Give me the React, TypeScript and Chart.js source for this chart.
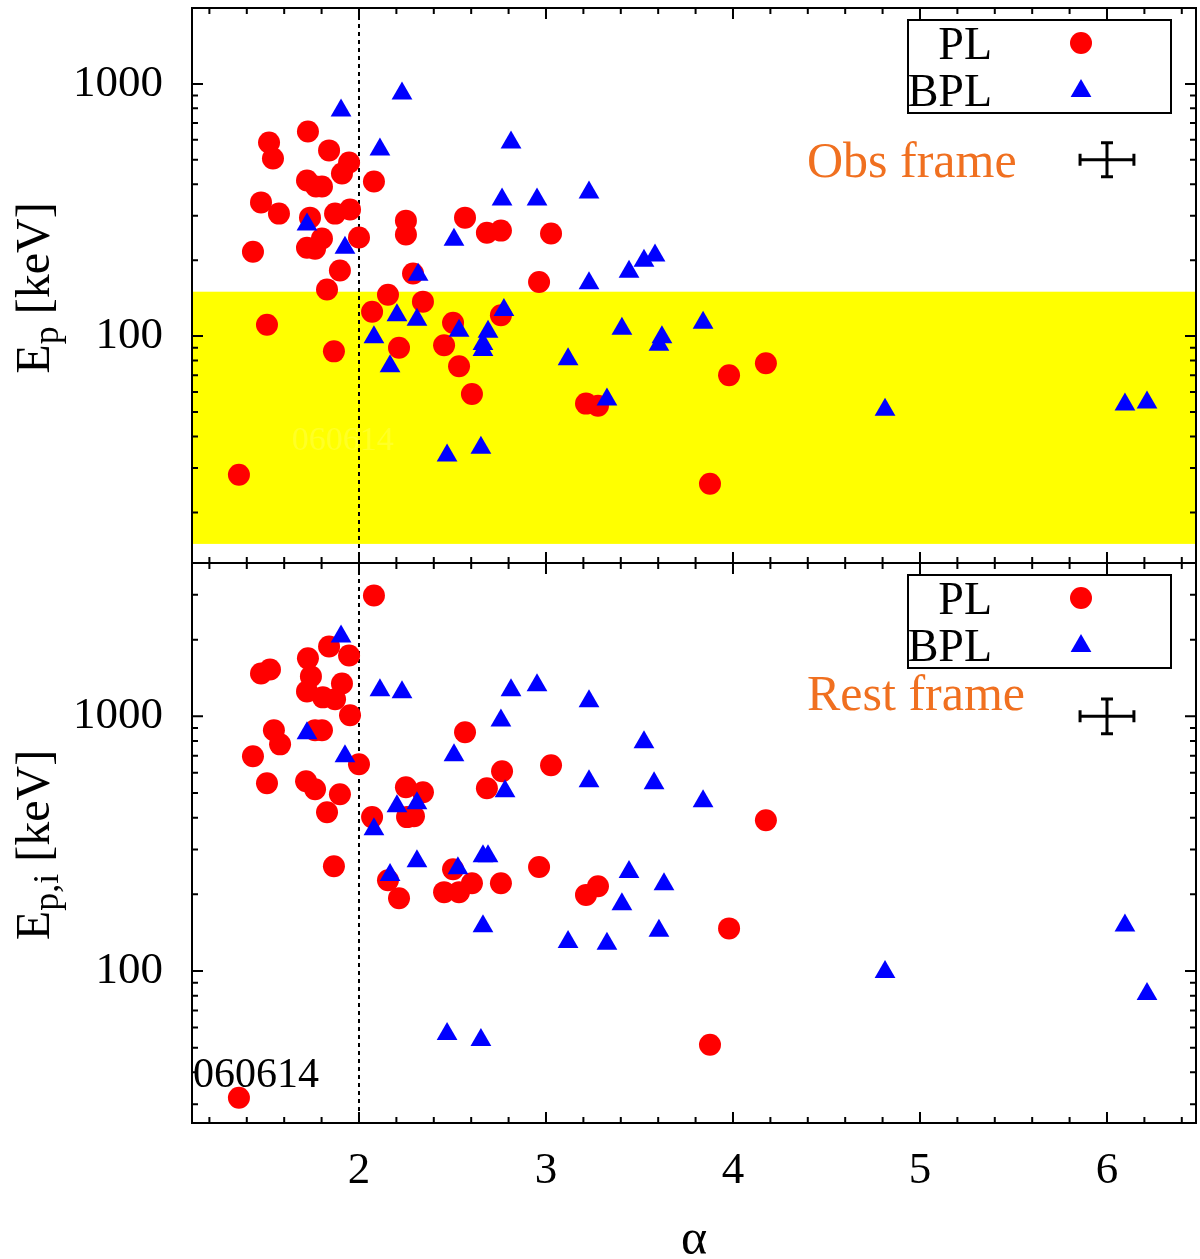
import { useEffect, useRef } from "react";
import { Chart, registerables } from "chart.js";

Chart.register(...registerables);

const SERIF = "'Liberation Serif', 'Times New Roman', Times, serif";
const RED = "#ff0000";
const BLUE = "#0000ff";
const ORANGE = "#f07020";

// upper panel: observer frame, PL fits
const plObsAlpha = [1.519, 1.54, 1.727, 1.84, 1.947, 1.909, 1.722, 1.77, 1.802, 2.08, 1.476, 1.572, 1.738, 1.872, 1.952, 2.251, 2.251, 2.567, 2.684, 2.759, 3.027, 1.433, 1.722, 1.765, 1.802, 2.0, 1.898, 2.289, 2.963, 1.829, 2.155, 2.342, 1.508, 2.07, 2.503, 2.759, 1.866, 2.214, 2.455, 2.535, 2.604, 1.358, 3.214, 3.278, 3.979, 4.176, 3.877];
const plObsEp = [586, 506, 648, 545, 488, 441, 414, 392, 392, 410, 339, 306, 295, 306, 318, 287, 253, 295, 257, 262, 255, 216, 224, 222, 244, 246, 182, 177, 164, 153, 146, 137, 111, 125, 113, 121, 87, 90, 92, 76, 59, 28.2, 54, 53, 70, 78, 26];

// upper panel: observer frame, BPL fits
const bplObsAlpha = [1.904, 2.23, 2.112, 2.813, 2.765, 2.952, 3.23, 1.722, 1.925, 2.508, 2.316, 3.23, 2.203, 2.31, 2.08, 2.166, 2.535, 2.69, 2.663, 2.663, 2.775, 3.118, 3.326, 2.471, 2.652, 3.444, 3.524, 3.583, 3.406, 3.62, 3.604, 3.84, 4.813, 6.096, 6.214];
const bplObsEp = [785, 917, 550, 586, 348, 348, 371, 277, 224, 241, 175, 162, 121, 116, 99, 76, 105, 104, 93, 88, 127, 81, 56, 33.6, 36.1, 180, 199, 209, 107, 99, 92.5, 113, 51, 53.5, 54.5];

// lower panel: rest frame, PL fits
const plRestAlpha = [2.08, 1.84, 1.947, 1.727, 1.476, 1.524, 1.743, 1.909, 1.722, 1.807, 1.872, 1.952, 1.545, 1.765, 1.802, 1.578, 2.567, 1.433, 2.0, 1.508, 1.717, 1.765, 1.898, 1.829, 2.251, 2.342, 2.257, 2.294, 2.07, 2.765, 2.684, 3.027, 1.866, 2.155, 2.214, 2.503, 2.455, 2.535, 2.604, 2.759, 2.963, 3.214, 3.278, 1.358, 4.176, 3.979, 3.877];
const plRestEpi = [2982, 1881, 1734, 1689, 1474, 1528, 1435, 1346, 1253, 1187, 1166, 1009, 881, 881, 881, 776, 866, 697, 648, 546, 556, 517, 494, 420, 527, 503, 402, 405, 402, 609, 522, 642, 258, 227, 193, 251, 204, 204, 221, 221, 256, 199, 215, 31.8, 391, 147, 51.3];

// lower panel: rest frame, BPL fits
const bplRestAlpha = [1.904, 2.112, 2.23, 2.813, 2.952, 3.23, 2.759, 1.722, 1.925, 2.508, 2.781, 3.23, 2.203, 2.31, 2.08, 2.166, 2.31, 2.529, 2.663, 2.69, 2.663, 3.118, 3.326, 2.471, 2.652, 3.524, 3.578, 3.84, 3.444, 3.631, 3.406, 3.604, 4.813, 6.096, 6.214];
const bplRestEpi = [2060, 1265, 1242, 1265, 1323, 1145, 964, 858, 697, 703, 508, 556, 444, 456, 360, 238, 270, 253, 282, 282, 150, 130, 128, 56.6, 53.6, 791, 546, 464, 245, 219, 183, 144, 99, 151, 81.3];

// axes
const alphaRange = [1.107, 6.476];
const obsRange = [12.6, 2000];
const restRange = [25.3, 4000];
const alphaTicks = [1.2, 1.4, 1.6, 1.8, 2, 2.2, 2.4, 2.6, 2.8, 3, 3.2, 3.4, 3.6, 3.8, 4, 4.2, 4.4, 4.6, 4.8, 5, 5.2, 5.4, 5.6, 5.8, 6, 6.2, 6.4];
const alphaLabels = [2, 3, 4, 5, 6];
const obsTicks = [20, 30, 40, 50, 60, 70, 80, 90, 100, 200, 300, 400, 500, 600, 700, 800, 900, 1000, 2000];
const restTicks = [30, 40, 50, 60, 70, 80, 90, 100, 200, 300, 400, 500, 600, 700, 800, 900, 1000, 2000, 3000, 4000];
const energyLabels = [100, 1000];

// extras
const batBand = [15, 150];
const alphaDivider = 2;
const errAlpha = [5.856, 6, 6.144];
const errObsEp = [428, 500, 585];
const errRestEp = [855, 1000, 1170];
const tagName = "060614";
const tagObsAt = [1.64, 35.4];
const tagRestAt = [1.358, 31.8];

const pts = (xs: number[], ys: number[]) => xs.map((x, i) => ({ x, y: ys[i] }));

type PanelOpts = {
  ticksY: number[];
  band?: number[];
  frameText: string;
  frameBaseline: number;
  errY: number[];
  sub: string;
  titleY: number;
  faintTag?: number[];
  tag?: number[];
};

function triangle(ctx: CanvasRenderingContext2D, x: number, y: number, r: number) {
  const h = r * Math.sin(Math.PI / 3);
  ctx.beginPath();
  ctx.moveTo(x, y - r);
  ctx.lineTo(x + h, y + r / 2);
  ctx.lineTo(x - h, y + r / 2);
  ctx.closePath();
  ctx.fill();
}

function panel(o: PanelOpts) {
  return {
    id: "panel",
    beforeDatasetsDraw(chart: any) {
      const { ctx, chartArea: a } = chart;
      const sx = chart.scales.x;
      const sy = chart.scales.y;
      ctx.save();
      if (o.band) {
        const y1 = sy.getPixelForValue(o.band[1]);
        const y0 = Math.min(sy.getPixelForValue(o.band[0]), a.bottom);
        ctx.fillStyle = "#ffff00";
        ctx.fillRect(a.left, y1, a.right - a.left, y0 - y1);
      }
      if (o.faintTag) {
        ctx.font = `34px ${SERIF}`;
        ctx.fillStyle = "rgba(255,255,255,0.15)";
        ctx.fillText(tagName, sx.getPixelForValue(o.faintTag[0]), sy.getPixelForValue(o.faintTag[1]));
      }
      const xd = sx.getPixelForValue(alphaDivider);
      ctx.strokeStyle = "#000";
      ctx.lineWidth = 2;
      ctx.setLineDash([4, 4]);
      ctx.beginPath();
      ctx.moveTo(xd, a.top);
      ctx.lineTo(xd, a.bottom);
      ctx.stroke();
      ctx.restore();
    },
    afterDraw(chart: any) {
      const { ctx, chartArea: a } = chart;
      const sx = chart.scales.x;
      const sy = chart.scales.y;
      ctx.save();
      ctx.strokeStyle = "#000";
      ctx.fillStyle = "#000";
      ctx.lineWidth = 2;
      ctx.setLineDash([]);

      // frame + inward ticks on all sides
      ctx.strokeRect(a.left, a.top, a.right - a.left, a.bottom - a.top);
      ctx.beginPath();
      for (const v of o.ticksY) {
        const py = sy.getPixelForValue(v);
        if (py < a.top + 1 || py > a.bottom - 1) continue;
        const len = energyLabels.includes(v) ? 11 : 6;
        ctx.moveTo(a.left, py);
        ctx.lineTo(a.left + len, py);
        ctx.moveTo(a.right, py);
        ctx.lineTo(a.right - len, py);
      }
      for (const v of alphaTicks) {
        const px = sx.getPixelForValue(v);
        const len = Number.isInteger(v) ? 11 : 6;
        ctx.moveTo(px, a.top);
        ctx.lineTo(px, a.top + len);
        ctx.moveTo(px, a.bottom);
        ctx.lineTo(px, a.bottom - len);
      }
      ctx.stroke();

      // key
      ctx.strokeRect(a.right - 288, a.top + 12, 263, 93);
      ctx.font = `46px ${SERIF}`;
      ctx.textAlign = "right";
      ctx.textBaseline = "alphabetic";
      ctx.fillText("PL", a.right - 204, a.top + 51);
      ctx.fillText("BPL", a.right - 204, a.top + 98);
      ctx.fillStyle = RED;
      ctx.beginPath();
      ctx.arc(a.right - 115, a.top + 35, 11, 0, Math.PI * 2);
      ctx.fill();
      ctx.fillStyle = BLUE;
      triangle(ctx, a.right - 115, a.top + 83, 12);

      // frame label
      ctx.font = `50px ${SERIF}`;
      ctx.fillStyle = ORANGE;
      ctx.textAlign = "left";
      ctx.fillText(o.frameText, a.right - 389, a.top + o.frameBaseline);

      // typical error bar
      const ex0 = sx.getPixelForValue(errAlpha[0]);
      const ex = sx.getPixelForValue(errAlpha[1]);
      const ex1 = sx.getPixelForValue(errAlpha[2]);
      const ey0 = sy.getPixelForValue(o.errY[0]);
      const ey = sy.getPixelForValue(o.errY[1]);
      const ey1 = sy.getPixelForValue(o.errY[2]);
      ctx.lineWidth = 3;
      ctx.beginPath();
      ctx.moveTo(ex0, ey); ctx.lineTo(ex1, ey);
      ctx.moveTo(ex, ey0); ctx.lineTo(ex, ey1);
      ctx.moveTo(ex0, ey - 6); ctx.lineTo(ex0, ey + 6);
      ctx.moveTo(ex1, ey - 6); ctx.lineTo(ex1, ey + 6);
      ctx.moveTo(ex - 6, ey0); ctx.lineTo(ex + 6, ey0);
      ctx.moveTo(ex - 6, ey1); ctx.lineTo(ex + 6, ey1);
      ctx.stroke();

      // burst tag
      if (o.tag) {
        ctx.fillStyle = "#000";
        ctx.font = `42px ${SERIF}`;
        ctx.fillText(tagName, a.left + 1, sy.getPixelForValue(o.tag[1]) - 11);
      }

      // y title with subscript
      ctx.fillStyle = "#000";
      ctx.translate(49, o.titleY);
      ctx.rotate(-Math.PI / 2);
      ctx.font = `48px ${SERIF}`;
      const wE = ctx.measureText("E").width;
      const wK = ctx.measureText(" [keV]").width;
      ctx.font = `36px ${SERIF}`;
      const wS = ctx.measureText(o.sub).width;
      let cx = -(wE + wS + wK) / 2;
      ctx.font = `48px ${SERIF}`;
      ctx.fillText("E", cx, 0);
      cx += wE;
      ctx.font = `36px ${SERIF}`;
      ctx.fillText(o.sub, cx, 9);
      cx += wS;
      ctx.font = `48px ${SERIF}`;
      ctx.fillText(" [keV]", cx, 0);
      ctx.restore();
    },
  };
}

function zeroPad(s: any) {
  s.paddingTop = 0;
  s.paddingBottom = 0;
  s.paddingLeft = 0;
  s.paddingRight = 0;
}

function yAxis(range: number[]) {
  return {
    type: "logarithmic" as const,
    min: range[0],
    max: range[1],
    afterBuildTicks: (s: any) => {
      s.ticks = energyLabels.map((value) => ({ value }));
    },
    afterFit: (s: any) => {
      s.width = 192;
      zeroPad(s);
    },
    grid: { display: false, drawTicks: false },
    border: { display: false },
    ticks: {
      autoSkip: false,
      padding: 29,
      color: "#000",
      font: { family: SERIF, size: 45 },
      callback: (v: any) => String(v),
    },
  };
}

function sets(plA: number[], plE: number[], bA: number[], bE: number[]) {
  return [
    { label: "BPL", data: pts(bA, bE), pointStyle: "triangle", pointRadius: 12, backgroundColor: BLUE, borderWidth: 0, order: 0 },
    { label: "PL", data: pts(plA, plE), pointStyle: "circle", pointRadius: 11, backgroundColor: RED, borderWidth: 0, order: 1 },
  ];
}

export default function App() {
  const topRef = useRef<HTMLCanvasElement | null>(null);
  const botRef = useRef<HTMLCanvasElement | null>(null);

  useEffect(() => {
    if (!topRef.current || !botRef.current) return;

    const top = new Chart(topRef.current, {
      type: "scatter",
      data: { datasets: sets(plObsAlpha, plObsEp, bplObsAlpha, bplObsEp) as any },
      options: {
        animation: false,
        responsive: false,
        events: [],
        layout: { autoPadding: false, padding: { top: 8, right: 4, bottom: 3, left: 0 } },
        plugins: { legend: { display: false }, tooltip: { enabled: false } },
        scales: {
          x: { type: "linear", min: alphaRange[0], max: alphaRange[1], display: false },
          y: yAxis(obsRange) as any,
        },
      },
      plugins: [
        panel({
          ticksY: obsTicks,
          band: batBand,
          frameText: "Obs frame",
          frameBaseline: 169,
          errY: errObsEp,
          sub: "p",
          titleY: 288,
          faintTag: tagObsAt,
        }),
      ],
    });

    const bot = new Chart(botRef.current, {
      type: "scatter",
      data: { datasets: sets(plRestAlpha, plRestEpi, bplRestAlpha, bplRestEpi) as any },
      options: {
        animation: false,
        responsive: false,
        events: [],
        layout: { autoPadding: false, padding: { top: 3, right: 4, bottom: 0, left: 0 } },
        plugins: { legend: { display: false }, tooltip: { enabled: false } },
        scales: {
          x: {
            type: "linear",
            min: alphaRange[0],
            max: alphaRange[1],
            afterBuildTicks: (s: any) => {
              s.ticks = alphaLabels.map((value) => ({ value }));
            },
            afterFit: (s: any) => {
              s.height = 136;
              zeroPad(s);
            },
            grid: { display: false, drawTicks: false },
            border: { display: false },
            ticks: {
              autoSkip: false,
              maxRotation: 0,
              padding: 21,
              color: "#000",
              font: { family: SERIF, size: 45 },
              callback: (v: any) => String(v),
            },
            title: {
              display: true,
              text: "α",
              color: "#000",
              font: { family: SERIF, size: 50, lineHeight: 0.72 },
              padding: 0,
            },
          },
          y: yAxis(restRange) as any,
        },
      },
      plugins: [
        panel({
          ticksY: restTicks,
          frameText: "Rest frame",
          frameBaseline: 147,
          errY: errRestEp,
          sub: "p,i",
          titleY: 845 - 560,
          tag: tagRestAt,
        }),
      ],
    });

    return () => {
      top.destroy();
      bot.destroy();
    };
  }, []);

  return (
    <div style={{ position: "absolute", left: 0, top: 0, width: 1200, height: 1259, background: "#fff" }}>
      <canvas ref={topRef} width={1200} height={566} style={{ position: "absolute", left: 0, top: 0 }} />
      <canvas ref={botRef} width={1200} height={699} style={{ position: "absolute", left: 0, top: 560 }} />
    </div>
  );
}
